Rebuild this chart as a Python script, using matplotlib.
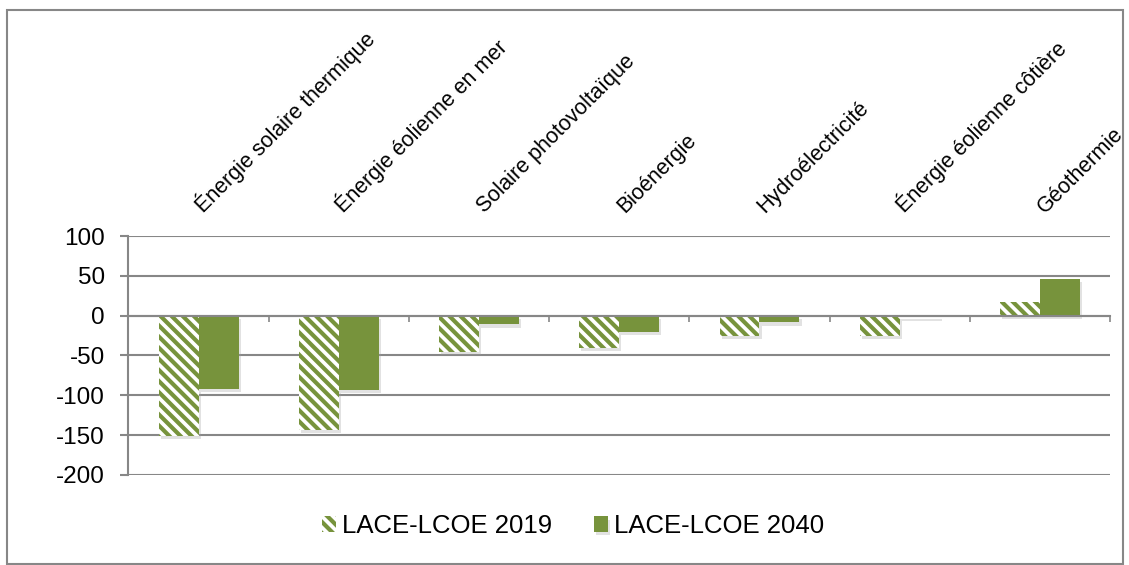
import numpy as np
import matplotlib.pyplot as plt
import matplotlib.patheffects as pe
import matplotlib.transforms as mtransforms
from matplotlib.patches import Rectangle
from matplotlib.ticker import FixedLocator

plt.rcParams['font.family'] = ['Liberation Sans', 'DejaVu Sans']
plt.rcParams['hatch.linewidth'] = 3.0
plt.rcParams['axes.unicode_minus'] = False

categories = ['Énergie solaire thermique', 'Énergie éolienne en mer', 'Solaire photovoltaïque',
              'Bioénergie', 'Hydroélectricité', 'Énergie éolienne côtière', 'Géothermie']
lace_2019 = [-151, -143, -45, -40, -25, -25, 17]
lace_2040 = [-92, -93, -11, -20, -8, -2, 46]
y_ticks = [-200, -150, -100, -50, 0, 50, 100]

vert = '#77933C'
gris = '#878787'

fig = plt.figure(figsize=(11.29, 5.65), dpi=100)
ax = fig.add_axes([0.1138, 0.1593, 0.8694, 0.4230])

x = np.arange(len(categories))
largeur = 0.285
ombre = [pe.SimplePatchShadow(offset=(1.5, -2.5), shadow_rgbFace='#a0a0a0', alpha=0.3), pe.Normal()]

# fond blanc avec ombre sous les barres hachurées
fond = ax.bar(x - largeur / 2, lace_2019, largeur, color='white', linewidth=0, zorder=2)
b1 = ax.bar(x - largeur / 2, lace_2019, largeur, facecolor='white', edgecolor=vert,
            hatch='\\\\\\', linewidth=0, label='LACE-LCOE 2019', zorder=3)
b2 = ax.bar(x + largeur / 2, lace_2040, largeur, color=vert, linewidth=0,
            label='LACE-LCOE 2040', zorder=3)
for b in list(fond) + list(b2):
    b.set_path_effects(ombre)

ax.set_xlim(-0.5, len(categories) - 0.5)
ax.set_ylim(-200, 100)
ax.set_yticks(y_ticks)
ax.yaxis.grid(True, color=gris, linewidth=1.5, zorder=0)
ax.set_axisbelow(True)

for cote in ['top', 'right']:
    ax.spines[cote].set_visible(False)
ax.spines['left'].set_color(gris)
ax.spines['left'].set_linewidth(1.5)
ax.spines['bottom'].set_position(('data', 0))
ax.spines['bottom'].set_color(gris)
ax.spines['bottom'].set_linewidth(1.5)
ax.spines['bottom'].set_zorder(4)

# graduations entre les catégories sur l'axe zéro
ax.xaxis.set_minor_locator(FixedLocator(np.arange(len(categories) + 1) - 0.5))
ax.set_xticks(x)
ax.set_xticklabels(categories, rotation=45, ha='left', va='baseline',
                   rotation_mode='anchor', fontsize=15.5)
ax.tick_params(axis='x', which='major', bottom=False, top=False,
               labelbottom=False, labeltop=True, pad=17)
ax.tick_params(axis='x', which='minor', bottom=True, top=False, length=4,
               width=1.2, color=gris, direction='out')
ax.tick_params(axis='y', length=6, width=1.5, color=gris, pad=11, labelsize=17.5)

decalage = mtransforms.ScaledTranslation(5 / 100, -6 / 100, fig.dpi_scale_trans)
for lab in ax.get_xticklabels():
    lab.set_transform(lab.get_transform() + decalage)

leg = ax.legend(loc='center', bbox_to_anchor=(0.453, -0.213), ncol=2,
                frameon=False, fontsize=18.5, handlelength=0.55, handleheight=0.55,
                handletextpad=0.25, columnspacing=1.6)

# cadre autour du graphique
fig.patches.append(Rectangle((7 / 1129, 1 / 565), 1116 / 1129, 554 / 565,
                             transform=fig.transFigure, fill=False,
                             edgecolor=gris, linewidth=1.5))

fig.savefig('out.png', dpi=100)
